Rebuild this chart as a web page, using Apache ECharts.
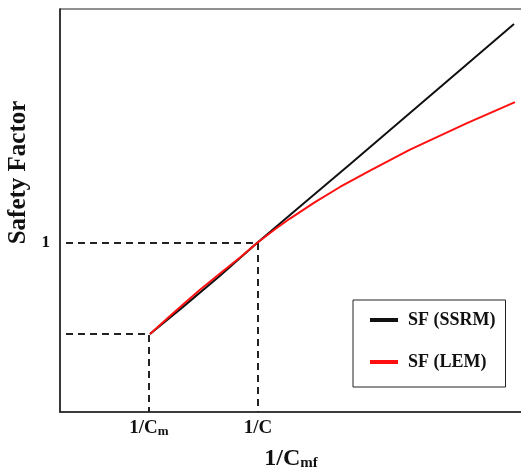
<!DOCTYPE html>
<html><head><meta charset="utf-8">
<script src="https://cdn.jsdelivr.net/npm/echarts@6/dist/echarts.min.js"></script>
<style>html,body{margin:0;padding:0;background:#fff}#c{width:521px;height:472px}</style>
</head><body><div id="c"></div>
<script>
// SF (SSRM) curve
const ssrmX = [0.90, 1.23, 1.60, 1.97, 2.40, 2.90, 3.40, 3.90, 4.54];
const ssrmY = [0.464, 0.626, 0.812, 1.006, 1.224, 1.476, 1.730, 1.984, 2.31];
// SF (LEM) curve
const lemX = [0.90, 1.10, 1.23, 1.40, 1.60, 1.80, 1.97, 2.15, 2.30, 2.55, 2.80, 3.10, 3.50, 4.07, 4.55];
const lemY = [0.464, 0.572, 0.640, 0.728, 0.825, 0.920, 1.006, 1.088, 1.152, 1.250, 1.340, 1.437, 1.562, 1.720, 1.845];
// reference points
const refX = [0.89, 1.98];          // 1/Cm, 1/C
const refY = [0.464, 1.006];        // SF at 1/Cm, SF = 1
const xTickLabels = ['{b|1/C}{s|m}', '{b|1/C}'];
const yTickValues = [1.006];
const yTickLabels = ['1'];
const seriesNames = ['SF (SSRM)', 'SF (LEM)'];

const font = 'Liberation Serif';
const pair = (xs, ys) => xs.map((x, i) => [x, ys[i]]);
const dash = {color: '#222', type: [7, 5], width: 2};

const dashSeries = [];
for (let i = 0; i < refX.length; i++) {
  dashSeries.push({
    type: 'line', silent: true, symbol: 'none', lineStyle: dash, z: 1,
    data: [[0.06, refY[i]], [refX[i], refY[i]], [refX[i], 0]]
  });
}

const chart = echarts.init(document.getElementById('c'));
chart.setOption({
  animation: false,
  grid: {left: 60, top: 9, right: -1, bottom: 60, containLabel: false, outerBoundsMode: 'none',
         show: true, borderColor: '#222', borderWidth: 1.2},
  xAxis: {
    type: 'value', min: 0, max: 4.62,
    name: '{b|1/C}{s|mf}', nameLocation: 'middle', nameGap: 35,
    nameTextStyle: {rich: {
      b: {fontFamily: font, fontWeight: 'bold', fontSize: 24, color: '#111'},
      s: {fontFamily: font, fontWeight: 'bold', fontSize: 15, color: '#111', padding: [9, 0, 0, 0]}
    }},
    axisLine: {lineStyle: {color: '#222', width: 1.5}},
    axisTick: {show: false},
    splitLine: {show: false},
    axisLabel: {
      customValues: refX, margin: 7,
      formatter: (v) => xTickLabels[refX.indexOf(v)] || '',
      rich: {
        b: {fontFamily: font, fontWeight: 'bold', fontSize: 19, color: '#111'},
        s: {fontFamily: font, fontWeight: 'bold', fontSize: 13, color: '#111', padding: [6, 0, 0, 0]}
      }
    }
  },
  yAxis: {
    type: 'value', min: 0, max: 2.4,
    name: 'Safety Factor', nameLocation: 'middle', nameGap: 16, nameRotate: 90,
    nameTextStyle: {fontFamily: font, fontWeight: 'bold', fontSize: 25, color: '#111', padding: [0, 0, 0, 76]},
    axisLine: {show: true, lineStyle: {color: '#222', width: 1.5}},
    axisTick: {show: false},
    splitLine: {show: false},
    axisLabel: {
      customValues: yTickValues, margin: 10,
      formatter: (v) => yTickLabels[yTickValues.indexOf(v)] || '',
      fontFamily: font, fontWeight: 'bold', fontSize: 17, color: '#111'
    }
  },
  legend: {
    left: 353, top: 300, orient: 'vertical',
    data: seriesNames,
    icon: 'rect', itemWidth: 28, itemHeight: 4, itemGap: 22,
    padding: [10, 10, 15, 17],
    borderColor: '#222', borderWidth: 1, backgroundColor: '#fff',
    textStyle: {fontFamily: font, fontWeight: 'bold', fontSize: 18, color: '#111', lineHeight: 20, padding: [0, 0, 0, 5]}
  },
  series: [
    ...dashSeries,
    {name: seriesNames[0], type: 'line', symbol: 'none', z: 3,
     lineStyle: {color: '#111', width: 2}, itemStyle: {color: '#111'},
     data: pair(ssrmX, ssrmY)},
    {name: seriesNames[1], type: 'line', symbol: 'none', z: 4,
     lineStyle: {color: '#ff1010', width: 2}, itemStyle: {color: '#ff1010'},
     data: pair(lemX, lemY)}
  ]
});
</script></body></html>
